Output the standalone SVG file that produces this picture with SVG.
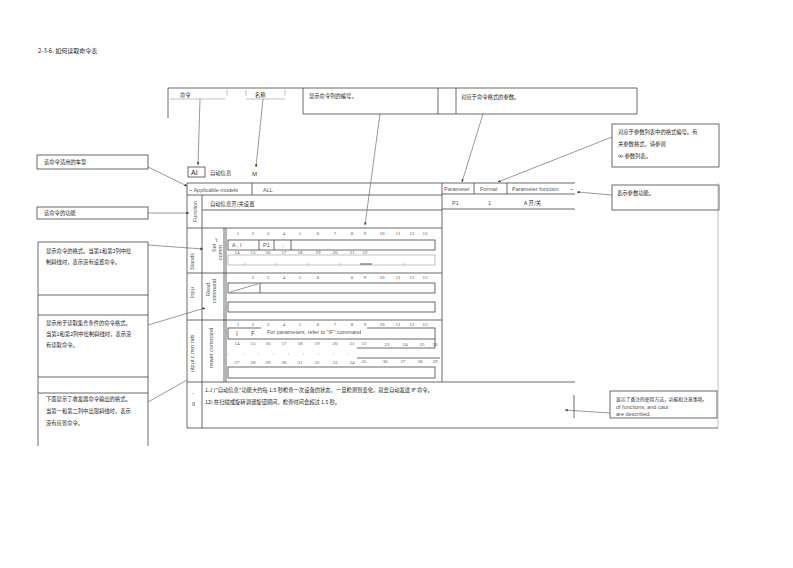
<svg xmlns="http://www.w3.org/2000/svg" width="793" height="568" viewBox="0 0 793 568">
<defs>
<marker id="ah" viewBox="0 0 10 10" refX="9" refY="5" markerWidth="5" markerHeight="5" orient="auto">
<path d="M0,1 L10,5 L0,9 z" fill="#333"/>
</marker>
<style>
.f{fill:none;stroke:#444;stroke-width:0.8}
.lt{fill:none;stroke:#999;stroke-width:0.6}
.c{stroke:#555;stroke-width:0.6;fill:none}
.cj{font-family:"Noto Sans CJK SC","Noto Sans",sans-serif;font-size:5.3px;fill:#222}
.la{font-family:"Liberation Sans",Arial,sans-serif;font-size:5.5px;fill:#555}
.n{font-family:"Liberation Serif","Times New Roman",serif;font-size:5px;fill:#555;text-anchor:middle}
</style>
</defs>
<rect width="793" height="568" fill="#fff"/>
<text class="cj" x="38" y="53" style="font-size:6px">2-3-6. 如何读取命令表</text>

<g id="header">
<path class="f" d="M168,88 H637 V114 H303 M168,88 V118 M303,88 V114 M438,88 V114 M456,88 V114"/>
<path class="lt" d="M170,99 H225 M227,90 V96 M246,90 V96 M246,99 H285 M285,90 V96"/>
<text class="cj" x="180" y="97">命令</text>
<text class="cj" x="255" y="97">名称</text>
<text class="cj" x="309" y="98">显示命令列的编号。</text>
<text class="cj" x="461" y="99">对应于命令格式的参数。</text>
</g>

<g id="left-boxes">
<rect class="f" x="37" y="155" width="111" height="14"/>
<text class="cj" x="44" y="164">该命令适用的车型</text>
<rect class="f" x="37" y="207" width="111" height="12"/>
<text class="cj" x="44" y="215">该命令的功能</text>
<path class="f" d="M38,242 H148 V446 M38,242 V446 M38,295 H148 M38,315 H148 M38,377 H148 M38,393 H148"/>
<text class="cj" x="46" y="253">显示命令的格式。当第1和第2列中绘</text>
<text class="cj" x="46" y="264">制斜线时，表示没有设置命令。</text>
<text class="cj" x="46" y="325">显示用于读取集合条件的命令格式。</text>
<text class="cj" x="46" y="336">当第1和第2列中绘制斜线时，表示没</text>
<text class="cj" x="46" y="347">有读取命令。</text>
<text class="cj" x="46" y="401">下面显示了收发器命令输出的格式。</text>
<text class="cj" x="46" y="413">当第一和第二列中出现斜线时，表示</text>
<text class="cj" x="46" y="425">没有应答命令。</text>
</g>

<g id="right-boxes">
<rect class="f" x="612" y="124" width="107" height="43"/>
<text class="cj" x="618" y="134">对应于参数列表中的格式编号。有</text>
<text class="cj" x="618" y="146">关参数格式，请参阅</text>
<text class="cj" x="618" y="158">∞ 参数列表。</text>
<rect class="f" x="612" y="185" width="107" height="25"/>
<text class="cj" x="617" y="195">表示参数功能。</text>
<rect class="f" x="610" y="391" width="107" height="27"/>
<text class="cj" x="616" y="401" style="font-size:4.8px">显示了备注的使用方法，功能和注意事项。</text>
<text class="la" x="616" y="409">of functions, and caut</text>
<text class="la" x="616" y="416">are described.</text>
<path class="lt" d="M718,183 V428"/>
</g>

<g id="title-line">
<rect class="f" x="188" y="167" width="17" height="10"/>
<text x="191" y="175" style="font-family:'Liberation Sans',Arial,sans-serif;font-size:7px;fill:#222">AI</text>
<text class="cj" x="210" y="175">自动信息</text>
<text x="252" y="176" style="font-family:'Liberation Sans',Arial,sans-serif;font-size:6px;fill:#333">M</text>
</g>

<g id="table">
<path class="f" d="M187,183 V428 H718 M187,183 H442 V382 M187,195 H442 M202,195 V428 M202,210 H442 M187,228 H442 M226,228 V382 M224,228 V382 M187,273 H442 M187,320 H442 M187,382 H575 M574,395 V418"/>
<path class="f" d="M252,183 V195"/>
<text class="la" x="189" y="192">~ Applicable models</text>
<text class="la" x="263" y="192">ALL</text>
<text class="la" transform="translate(197,222) rotate(-90)">Function</text>
<text class="cj" x="210" y="206">自动信息开/关设置</text>
<text class="la" transform="translate(194,270) rotate(-90)">Stands</text>
<text class="la" transform="translate(216,252) rotate(-90)">Set</text>
<text class="la" transform="translate(222,260) rotate(-90)">comm</text>
<text class="la" x="215" y="242">'t</text>
<text class="la" transform="translate(194,298) rotate(-90)">Inpu</text>
<text class="la" transform="translate(210,296) rotate(-90)">Read</text>
<text class="la" transform="translate(216,303) rotate(-90)">command</text>
<text class="la" transform="translate(194,372) rotate(-90)">utput c  mm nds</text>
<text class="la" transform="translate(213,368) rotate(-90)">nswer command</text>
<text class="la" x="192" y="395">-</text>
<text class="la" x="192" y="405">g</text>
<text class="cj" x="205" y="392">1.J )"自动信息"功能大约每 1.5 秒检查一次设备的状态，一旦检测到变化，就会自动发送 IF 命令。</text>
<text class="cj" x="205" y="404">12) 在扫描或旋转调谐旋钮期间，检查时间会超过 1.5 秒。</text>
</g>

<g id="param-table">
<path class="f" d="M442,183 H575 M442,194 H575 M442,209 H575 M474,183 V194 M507,183 V194"/>
<text class="la" x="444" y="191">Parameter</text>
<text class="la" x="480" y="191">Format</text>
<text class="la" x="512" y="191">Parameter function</text>
<text class="la" x="570" y="191">~</text>
<text class="la" x="452" y="205">P1</text>
<text class="la" x="488" y="205">1</text>
<text class="cj" x="524" y="205">A 开/关</text>
</g>

<g id="set-command">
<g class="n">
<text x="238" y="235">1</text><text x="253" y="235">2</text><text x="268" y="235">3</text><text x="284" y="235">4</text><text x="300" y="235">5</text><text x="318" y="235">6</text><text x="335" y="235">7</text><text x="352" y="235">8</text><text x="365" y="235">9</text><text x="382" y="235">10</text><text x="398" y="235">11</text><text x="412" y="235">12</text><text x="425" y="235">13</text>
<text x="237" y="254">14</text><text x="253" y="254">15</text><text x="268" y="254">16</text><text x="284" y="254">17</text><text x="300" y="254">18</text><text x="318" y="254">19</text><text x="335" y="254">20</text><text x="352" y="254">21</text><text x="365" y="254">22</text>
</g>
<rect class="f" x="228" y="240" width="207" height="10"/>
<path class="f" d="M259,240 V250 M274,240 V250 M291,240 V250"/>
<text class="la" x="232" y="247">A , I</text>
<text class="la" x="263" y="247">P1</text>
<text class="la" x="282" y="247">;</text>
<rect class="lt" x="228" y="255" width="207" height="10"/>
<path class="lt" d="M245,263 V265 M276,263 V265 M308,263 V265 M340,263 V265 M404,263 V265"/>
<path d="M360,264 H372" stroke="#555" stroke-width="1"/>
</g>

<g id="read-command">
<g class="n">
<text x="253" y="279">2</text><text x="268" y="279">3</text><text x="284" y="279">4</text><text x="300" y="279">5</text><text x="318" y="279">6</text><text x="352" y="279">8</text><text x="365" y="279">9</text><text x="382" y="279">10</text><text x="398" y="279">11</text><text x="412" y="279">12</text><text x="425" y="279">13</text>
</g>
<rect class="f" x="228" y="283" width="207" height="10"/>
<path class="f" d="M260,283 V293"/>
<path class="c" d="M230,292 L258,284"/>
<rect class="f" x="228" y="302" width="207" height="10"/>
</g>

<g id="answer-command">
<g class="n">
<text x="238" y="326">1</text><text x="253" y="326">2</text><text x="268" y="326">3</text><text x="284" y="326">4</text><text x="300" y="326">5</text><text x="318" y="326">6</text><text x="335" y="326">7</text><text x="352" y="326">8</text><text x="365" y="326">9</text><text x="382" y="326">10</text><text x="398" y="326">11</text><text x="412" y="326">12</text><text x="425" y="326">13</text>
<text x="237" y="345">14</text><text x="253" y="345">15</text><text x="268" y="345">16</text><text x="284" y="345">17</text><text x="300" y="345">18</text><text x="317" y="345">19</text><text x="335" y="345">20</text><text x="352" y="345">21</text><text x="364" y="345">22</text><text x="387" y="346">23</text><text x="405" y="346">24</text><text x="422" y="346">25</text><text x="435" y="346">26</text>
<text x="237" y="364">27</text><text x="253" y="364">28</text><text x="268" y="364">29</text><text x="284" y="364">30</text><text x="300" y="364">31</text><text x="317" y="364">32</text><text x="335" y="364">33</text><text x="352" y="364">34</text><text x="364" y="363">35</text><text x="385" y="363">36</text><text x="403" y="363">37</text><text x="420" y="363">38</text><text x="435" y="363">39</text>
</g>
<rect class="f" x="228" y="328" width="207" height="11"/>
<rect x="261" y="327" width="106" height="10" fill="#fff"/>
<text class="la" x="236" y="336" style="font-size:6.5px">I</text>
<text class="la" x="251" y="336" style="font-size:6.5px">F</text>
<text class="la" x="267" y="334">For parameters, refer to "IF" command</text>
<path class="f" d="M357,348 H435 V339 M357,358 H440"/>
<path class="lt" d="M228,354 H355" stroke-dasharray="1,14"/>
<rect class="f" x="228" y="367" width="207" height="11"/>
</g>

<g id="connectors">
<path class="c" d="M200,99 L198,165" marker-end="url(#ah)"/>
<path class="c" d="M263,99 L256,167" marker-end="url(#ah)"/>
<path class="c" d="M380,114 L365,225" marker-end="url(#ah)"/>
<path class="c" d="M483,114 L462,182" marker-end="url(#ah)"/>
<path class="c" d="M612,137 L498,182" marker-end="url(#ah)"/>
<path class="c" d="M612,195 L577,192" marker-end="url(#ah)"/>
<path class="c" d="M148,167 L187,186" marker-end="url(#ah)"/>
<path class="c" d="M148,213 L189,213" marker-end="url(#ah)"/>
<path class="c" d="M148,245 L203,249" marker-end="url(#ah)"/>
<path class="c" d="M148,325 L205,308" marker-end="url(#ah)"/>
<path class="c" d="M148,402 L187,380"/>
<path class="c" d="M610,413 L565,410" marker-end="url(#ah)"/>
</g>
</svg>
